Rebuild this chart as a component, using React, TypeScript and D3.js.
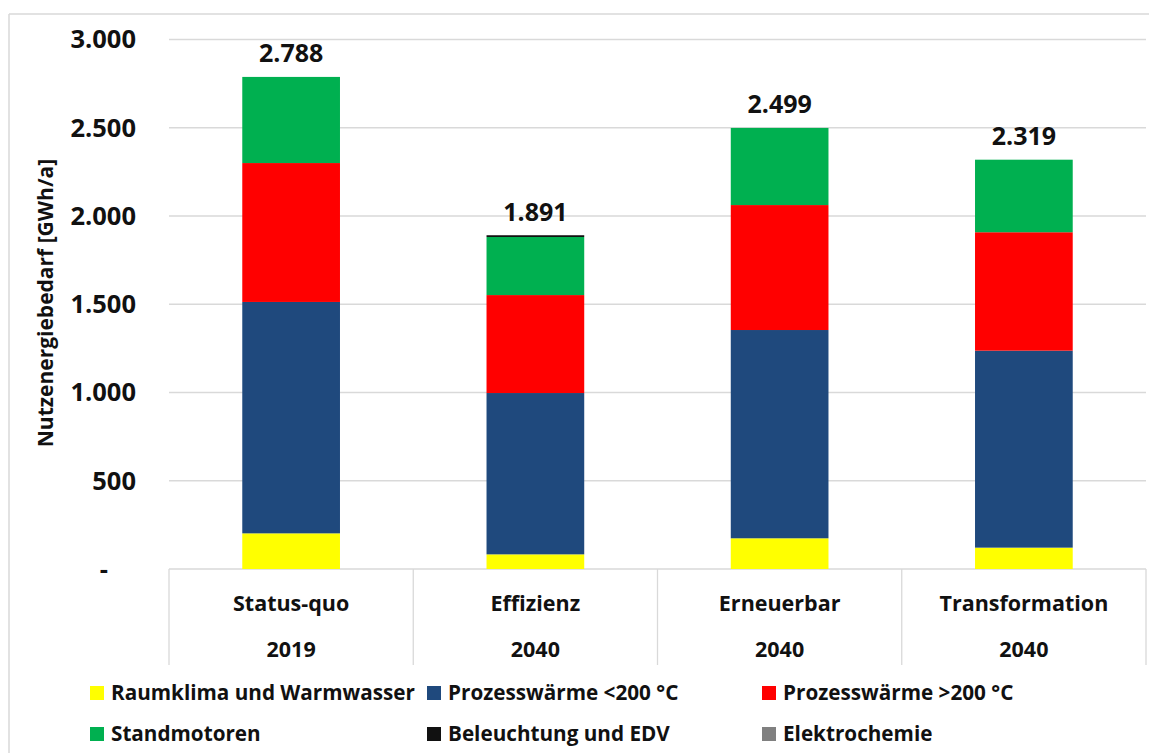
import React from "react";
import * as d3 from "d3";

// Nutzenergiebedarf nach Szenario, GWh/a
const scenarios = ["Status-quo", "Effizienz", "Erneuerbar", "Transformation"];
const years = ["2019", "2040", "2040", "2040"];

const seriesNames = [
  "Raumklima und Warmwasser",
  "Prozesswärme <200 °C",
  "Prozesswärme >200 °C",
  "Standmotoren",
  "Beleuchtung und EDV",
  "Elektrochemie",
];
const seriesColors = ["#FFFF00", "#1F497D", "#FF0000", "#00B050", "#111111", "#808080"];

const raumklima = [202, 83, 174, 121];
const prozessLow = [1311, 914, 1180, 1116];
const prozessHigh = [787, 555, 708, 671];
const standmotoren = [488, 329, 437, 411];
const beleuchtung = [0, 10, 0, 0];
const elektrochemie = [0, 0, 0, 0];

const yTicks = [0, 500, 1000, 1500, 2000, 2500, 3000];

const W = 1149;
const H = 753;
const FONT = "'Open Sans', 'DejaVu Sans', sans-serif";

const de = d3.formatLocale({ decimal: ",", thousands: ".", grouping: [3], currency: ["", " €"] });
const fmt = de.format(",.0f");

export default function App() {
  const seriesValues = [raumklima, prozessLow, prozessHigh, standmotoren, beleuchtung, elektrochemie];
  const rows = scenarios.map((s, i) => {
    const r: Record<string, number | string> = { scenario: s };
    seriesNames.forEach((n, k) => (r[n] = seriesValues[k][i]));
    return r;
  });
  const stacked = d3.stack<Record<string, number | string>>().keys(seriesNames)(rows as any);
  const totals = scenarios.map((_, i) => d3.sum(seriesValues, (v) => v[i]));

  const x = d3.scaleBand<string>().domain(scenarios).range([169, 1146]).padding(0);
  const y = d3.scaleLinear().domain([0, 3000]).range([569, 39.5]);
  const barW = x.bandwidth() * 0.4;
  const catBottom = 665;

  const legendCols = [90, 427, 762];
  const legendRows = [693, 734];

  return (
    <svg
      width={W}
      height={H}
      style={{ position: "absolute", left: 0, top: 0, background: "#fff" }}
      fontFamily={FONT}
    >
      <rect x={0} y={0} width={W} height={H} fill="#fff" />
      {/* chart frame */}
      <line x1={9} x2={W} y1={14} y2={14} stroke="#d9d9d9" strokeWidth={1.5} />
      <line x1={9} x2={9} y1={14} y2={H} stroke="#d9d9d9" strokeWidth={1.5} />

      {/* gridlines */}
      {yTicks.map((t) => (
        <line key={t} x1={169} x2={1146} y1={y(t)} y2={y(t)} stroke="#d9d9d9" strokeWidth={1.3} />
      ))}
      {/* y tick labels */}
      {yTicks.map((t) => (
        <text
          key={"l" + t}
          x={t === 0 ? 108 : 136}
          y={y(t)}
          dy="0.35em"
          textAnchor="end"
          fontSize={25.5}
          fontWeight={700}
          fill="#111"
        >
          {t === 0 ? "-" : fmt(t)}
        </text>
      ))}
      {/* y axis title */}
      <text
        transform="translate(46,303) rotate(-90)"
        textAnchor="middle"
        dy="0.35em"
        fontSize={21}
        fontWeight={700}
        fill="#111"
      >
        Nutzenergiebedarf [GWh/a]
      </text>

      {/* stacked bars */}
      {stacked.map((layer, k) => (
        <g key={layer.key} fill={seriesColors[k]}>
          {layer.map((d, i) => {
            const h = y(d[0]) - y(d[1]);
            if (h <= 0) return null;
            return (
              <rect
                key={i}
                x={(x(scenarios[i]) as number) + (x.bandwidth() - barW) / 2}
                y={y(d[1])}
                width={barW}
                height={h}
              />
            );
          })}
        </g>
      ))}

      {/* totals */}
      {totals.map((t, i) => (
        <text
          key={"t" + i}
          x={(x(scenarios[i]) as number) + x.bandwidth() / 2}
          y={y(t) - 14.5}
          textAnchor="middle"
          fontSize={25}
          fontWeight={700}
          fill="#111"
        >
          {fmt(t)}
        </text>
      ))}

      {/* category axis table */}
      {scenarios.concat([""]).map((_, i) => {
        const xv = i < scenarios.length ? (x(scenarios[i]) as number) : x.range()[1];
        return <line key={"d" + i} x1={xv} x2={xv} y1={y(0)} y2={catBottom} stroke="#d9d9d9" strokeWidth={1.3} />;
      })}
      {scenarios.map((s, i) => (
        <g key={"c" + i}>
          <text
            x={(x(s) as number) + x.bandwidth() / 2}
            y={610.5}
            textAnchor="middle"
            fontSize={21.5}
            fontWeight={700}
            fill="#111"
          >
            {s}
          </text>
          <text
            x={(x(s) as number) + x.bandwidth() / 2}
            y={657}
            textAnchor="middle"
            fontSize={21.5}
            fontWeight={700}
            fill="#111"
          >
            {years[i]}
          </text>
        </g>
      ))}

      {/* legend */}
      {seriesNames.map((n, k) => {
        const cx = legendCols[k % 3];
        const cy = legendRows[Math.floor(k / 3)];
        return (
          <g key={"lg" + k}>
            <rect x={cx} y={cy - 7} width={14} height={14} fill={seriesColors[k]} />
            <text x={cx + 21} y={cy} dy="0.35em" fontSize={20.7} fontWeight={700} fill="#111">
              {n}
            </text>
          </g>
        );
      })}
    </svg>
  );
}
